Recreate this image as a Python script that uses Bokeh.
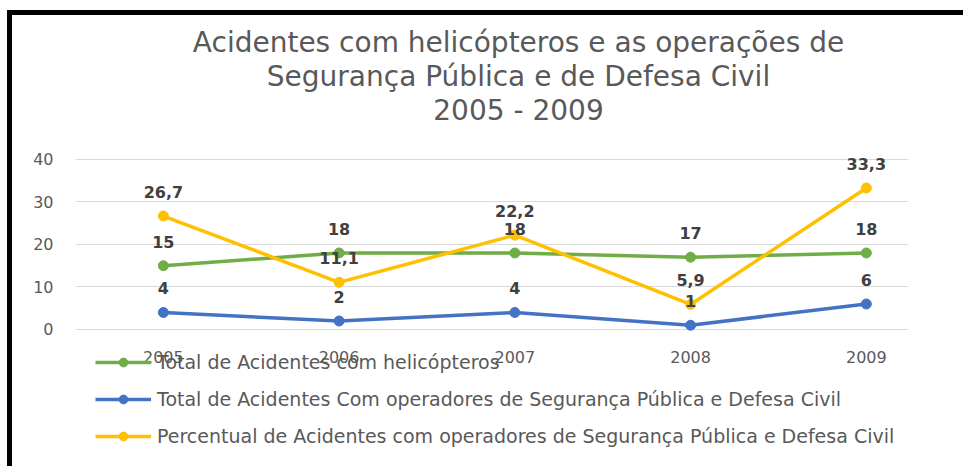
from bokeh.plotting import figure
from bokeh.models import Range1d, FixedTicker, Legend, LegendItem, Label
from bokeh.embed import file_html
from bokeh.resources import INLINE
from bokeh.core.properties import value

# ---- data ----
years = ["2005", "2006", "2007", "2008", "2009"]
total_helicopteros = [15, 18, 18, 17, 18]
total_operadores = [4, 2, 4, 1, 6]
percentual_operadores = [26.7, 11.1, 22.2, 5.9, 33.3]
series_names = [
    "Total de Acidentes com helicópteros",
    "Total de Acidentes Com operadores de Segurança Pública e Defesa Civil",
    "Percentual de Acidentes com operadores de Segurança Pública e Defesa Civil",
]
y_ticks = [0, 10, 20, 30, 40]
title_lines = [
    "Acidentes com helicópteros e as operações de",
    "Segurança Pública e de Defesa Civil",
    "2005 - 2009",
]

colors = ["#70AD47", "#4472C4", "#FFC000"]
series = [total_helicopteros, total_operadores, percentual_operadores]
xs = list(range(len(years)))

FONT = "DejaVu Sans"
GRAY = "#595959"

# The frame covers the whole visible chart box: the value axis (0..40)
# uses the middle, the title sits above it and the legend below it.
p = figure(
    width=956, height=495,
    x_range=Range1d(-0.5, 4.24), y_range=Range1d(-32.0, 73.88),
    output_backend="svg", toolbar_location=None,
    min_border_left=63, min_border_right=60,
    min_border_top=0, min_border_bottom=45,
)
p.styles = {
    "margin-top": "10px", "margin-left": "7px", "margin-bottom": "-46px",
    "border-top": "5px solid black", "border-left": "5px solid black",
}
p.outline_line_color = None
p.background_fill_color = "white"
p.border_fill_color = "white"

p.xgrid.visible = False
p.ygrid.grid_line_color = "#D9D9D9"
p.ygrid.grid_line_width = 1

for ax in (p.xaxis, p.yaxis):
    ax.axis_line_color = None
    ax.major_tick_line_color = None
    ax.minor_tick_line_color = None
    ax.major_label_text_color = GRAY
    ax.major_label_text_font = FONT
    ax.major_label_text_font_size = "16px"

p.yaxis.ticker = FixedTicker(ticks=y_ticks)
p.yaxis.major_label_standoff = 16
p.xaxis.ticker = FixedTicker(ticks=xs)
p.xaxis.major_label_overrides = {i: y for i, y in enumerate(years)}
p.xaxis.major_label_standoff = 16
p.xaxis.fixed_location = 0

items = []
for name, vals, col in zip(series_names, series, colors):
    l = p.line(xs, vals, line_color=col, line_width=3.5)
    s = p.scatter(xs, vals, size=10, fill_color=col, line_color=col)
    items.append(LegendItem(label=name, renderers=[l, s]))

for vals in series:
    labels = [f"{v:g}".replace(".", ",") for v in vals]
    p.text(xs, vals, text=labels, text_align="center", text_baseline="middle",
           y_offset=-24, text_font=value(FONT), text_font_style="bold",
           text_font_size="16px", text_color="#404040")

legend = Legend(items=items, location=(20, 18))
legend.border_line_color = None
legend.background_fill_alpha = 0
legend.padding = 0
legend.margin = 0
legend.spacing = 15
legend.glyph_width = 56
legend.glyph_height = 22
legend.label_height = 22
legend.label_standoff = 6
legend.label_text_font = FONT
legend.label_text_font_size = "19px"
legend.label_text_color = GRAY
p.add_layout(legend)

for txt, yy in zip(title_lines, [423, 389, 355]):
    p.add_layout(Label(x=443, y=yy, x_units="screen", y_units="screen", text=txt,
                       text_align="center", text_baseline="middle",
                       text_font=FONT, text_font_size="28px", text_color=GRAY))

open("out.html", "w").write(file_html(p, INLINE))
